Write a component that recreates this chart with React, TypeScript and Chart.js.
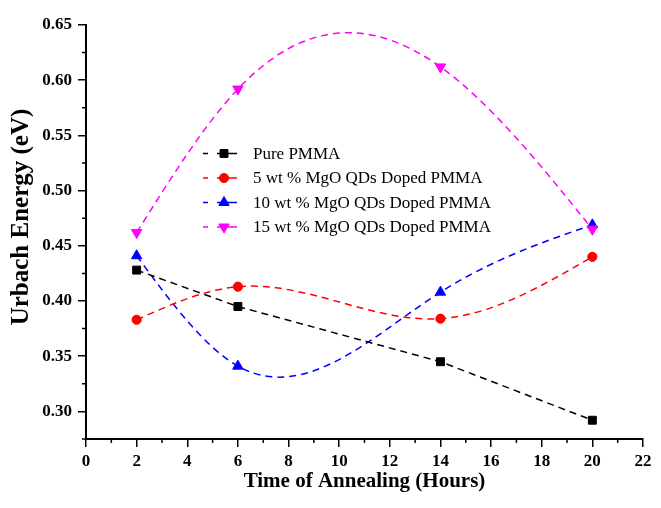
import React, { useEffect, useRef } from "react";
import { Chart, registerables } from "chart.js";

Chart.register(...registerables);

// ---- data ----
const hours = [2, 6, 14, 20];
const purePMMA = [0.428, 0.395, 0.345, 0.292];
const mgo5 = [0.383, 0.413, 0.384, 0.44];
const mgo10 = [0.441, 0.341, 0.408, 0.469];
const mgo15 = [0.462, 0.592, 0.612, 0.465];
const seriesLabels = [
  "Pure PMMA",
  "5 wt % MgO QDs Doped PMMA",
  "10 wt % MgO QDs Doped PMMA",
  "15 wt % MgO QDs Doped PMMA",
];
const xTicks = [0, 2, 4, 6, 8, 10, 12, 14, 16, 18, 20, 22];
const xMinorTicks = [1, 3, 5, 7, 9, 11, 13, 15, 17, 19, 21];
const yTicks = [0.3, 0.35, 0.4, 0.45, 0.5, 0.55, 0.6, 0.65];
const yMinorTicks = [0.275, 0.325, 0.375, 0.425, 0.475, 0.525, 0.575, 0.625];
const xTitle = "Time of Annealing (Hours)";
const yTitle = "Urbach Energy (eV)";

const FONT = "'Times New Roman', 'Liberation Serif', serif";

// Slopes of a natural cubic spline through (xs, ys) – used only to shape the
// Bezier control points of the smoothed lines (Origin-style "spline" connector).
function naturalSplineSlopes(xs: number[], ys: number[]): number[] {
  const n = xs.length;
  const h: number[] = [];
  const s: number[] = [];
  for (let i = 0; i < n - 1; i++) {
    h[i] = xs[i + 1] - xs[i];
    s[i] = (ys[i + 1] - ys[i]) / h[i];
  }
  const M = new Array(n).fill(0);
  if (n > 2) {
    const b: number[] = [];
    const c: number[] = [];
    const d: number[] = [];
    const a: number[] = [];
    for (let i = 1; i < n - 1; i++) {
      a[i] = h[i - 1];
      b[i] = 2 * (h[i - 1] + h[i]);
      c[i] = h[i];
      d[i] = 6 * (s[i] - s[i - 1]);
    }
    for (let i = 2; i < n - 1; i++) {
      const w = a[i] / b[i - 1];
      b[i] -= w * c[i - 1];
      d[i] -= w * d[i - 1];
    }
    M[n - 2] = d[n - 2] / b[n - 2];
    for (let i = n - 3; i >= 1; i--) M[i] = (d[i] - c[i] * M[i + 1]) / b[i];
  }
  const m: number[] = [];
  for (let i = 0; i < n - 1; i++) m[i] = s[i] - (h[i] * (2 * M[i] + M[i + 1])) / 6;
  m[n - 1] = s[n - 2] + (h[n - 2] * (M[n - 2] + 2 * M[n - 1])) / 6;
  return m;
}

const splineControlPlugin = {
  id: "splineControl",
  beforeDatasetsDraw(chart: any) {
    const xs = chart.scales.x;
    const ys = chart.scales.y;
    chart.data.datasets.forEach((ds: any, di: number) => {
      if (!ds.spline) return;
      const meta = chart.getDatasetMeta(di);
      const line = meta.dataset;
      if (!line) return;
      line.updateControlPoints(chart.chartArea, "x");
      const px = ds.data.map((p: any) => p.x);
      const py = ds.data.map((p: any) => p.y);
      const m = naturalSplineSlopes(px, py);
      const pts = meta.data;
      for (let i = 0; i < pts.length; i++) {
        const pt = pts[i];
        if (i > 0) {
          const hh = (px[i] - px[i - 1]) / 3;
          pt.cp1x = xs.getPixelForValue(px[i] - hh);
          pt.cp1y = ys.getPixelForValue(py[i] - m[i] * hh);
        } else {
          pt.cp1x = pt.x;
          pt.cp1y = pt.y;
        }
        if (i < pts.length - 1) {
          const hh = (px[i + 1] - px[i]) / 3;
          pt.cp2x = xs.getPixelForValue(px[i] + hh);
          pt.cp2y = ys.getPixelForValue(py[i] + m[i] * hh);
        } else {
          pt.cp2x = pt.x;
          pt.cp2y = pt.y;
        }
      }
      line._path = undefined;
    });
  },
};

function drawMarker(
  ctx: CanvasRenderingContext2D,
  style: string,
  rotationDeg: number,
  x: number,
  y: number,
  r: number,
  color: string
) {
  ctx.save();
  ctx.fillStyle = color;
  ctx.strokeStyle = color;
  ctx.lineWidth = 1;
  ctx.beginPath();
  if (style === "rect") {
    const s = r / Math.SQRT2;
    ctx.rect(x - s, y - s, 2 * s, 2 * s);
  } else if (style === "circle") {
    ctx.arc(x, y, r, 0, Math.PI * 2);
  } else {
    let rad = (rotationDeg * Math.PI) / 180;
    ctx.moveTo(x + Math.sin(rad) * r, y - Math.cos(rad) * r);
    rad += (2 * Math.PI) / 3;
    ctx.lineTo(x + Math.sin(rad) * r, y - Math.cos(rad) * r);
    rad += (2 * Math.PI) / 3;
    ctx.lineTo(x + Math.sin(rad) * r, y - Math.cos(rad) * r);
    ctx.closePath();
  }
  ctx.fill();
  ctx.stroke();
  ctx.restore();
}

const minorTicksPlugin = {
  id: "minorTicks",
  afterDraw(chart: any) {
    const { ctx, chartArea, scales } = chart;
    ctx.save();
    ctx.strokeStyle = "#000";
    ctx.lineWidth = 1.5;
    ctx.beginPath();
    xMinorTicks.forEach((v) => {
      const px = scales.x.getPixelForValue(v);
      ctx.moveTo(px, chartArea.bottom);
      ctx.lineTo(px, chartArea.bottom + 4);
    });
    yMinorTicks.forEach((v) => {
      const py = scales.y.getPixelForValue(v);
      ctx.moveTo(chartArea.left, py);
      ctx.lineTo(chartArea.left - 4, py);
    });
    ctx.stroke();
    ctx.restore();
  },
};

const yTitlePlugin = {
  id: "yTitle",
  afterDraw(chart: any) {
    const { ctx, chartArea } = chart;
    ctx.save();
    ctx.translate(22, chartArea.top + 192);
    ctx.rotate(-Math.PI / 2);
    ctx.fillStyle = "#000";
    ctx.font = `bold 25px ${FONT}`;
    ctx.textAlign = "center";
    ctx.textBaseline = "middle";
    ctx.fillText(yTitle, 0, 0);
    ctx.restore();
  },
};

const insideLegendPlugin = {
  id: "insideLegend",
  afterDraw(chart: any) {
    const { ctx, chartArea } = chart;
    const x0 = chartArea.left + 117;
    chart.data.datasets.forEach((ds: any, i: number) => {
      const y = chartArea.top + 128.5 + i * 24.5;
      ctx.save();
      ctx.strokeStyle = ds.borderColor;
      ctx.lineWidth = 1.5;
      ctx.beginPath();
      ctx.moveTo(x0, y);
      ctx.lineTo(x0 + 5, y);
      ctx.moveTo(x0 + 14, y);
      ctx.lineTo(x0 + 34, y);
      ctx.stroke();
      ctx.restore();
      drawMarker(ctx, ds.pointStyle, ds.pointRotation || 0, x0 + 21, y, ds.pointRadius, ds.borderColor);
      ctx.save();
      ctx.fillStyle = "#000";
      ctx.font = `17px ${FONT}`;
      ctx.textBaseline = "middle";
      ctx.textAlign = "left";
      ctx.fillText(seriesLabels[i], x0 + 50, y + 1);
      ctx.restore();
    });
  },
};

function toPoints(values: number[]) {
  return hours.map((h, i) => ({ x: h, y: values[i] }));
}

export default function App() {
  const canvasRef = useRef<HTMLCanvasElement | null>(null);

  useEffect(() => {
    if (!canvasRef.current) return;
    Chart.defaults.font.family = FONT;
    Chart.defaults.color = "#000";

    const common = {
      borderWidth: 1.5,
      borderDash: [7, 5],
      pointBorderWidth: 1,
      fill: false,
    };

    const chart = new Chart(canvasRef.current, {
      type: "line",
      data: {
        datasets: [
          {
            ...common,
            label: seriesLabels[0],
            data: toPoints(purePMMA),
            borderColor: "#000000",
            backgroundColor: "#000000",
            pointStyle: "rect",
            pointRadius: 5.6,
            tension: 0,
            spline: false,
            order: 1,
          },
          {
            ...common,
            label: seriesLabels[1],
            data: toPoints(mgo5),
            borderColor: "#ff0000",
            backgroundColor: "#ff0000",
            pointStyle: "circle",
            pointRadius: 4.6,
            tension: 0.4,
            spline: true,
            order: 2,
          },
          {
            ...common,
            label: seriesLabels[2],
            data: toPoints(mgo10),
            borderColor: "#0000ff",
            backgroundColor: "#0000ff",
            pointStyle: "triangle",
            pointRadius: 6,
            tension: 0.4,
            spline: true,
            order: 3,
          },
          {
            ...common,
            label: seriesLabels[3],
            data: toPoints(mgo15),
            borderColor: "#ff00ff",
            backgroundColor: "#ff00ff",
            pointStyle: "triangle",
            pointRotation: 180,
            pointRadius: 6,
            tension: 0.4,
            spline: true,
            order: 0,
          },
        ],
      } as any,
      options: {
        animation: false,
        responsive: true,
        maintainAspectRatio: false,
        layout: { padding: { top: 25, right: 18, left: 0, bottom: 0 } },
        elements: { line: { capBezierPoints: false } as any },
        plugins: {
          legend: { display: false },
          tooltip: { enabled: false },
        },
        scales: {
          x: {
            type: "linear",
            min: 0,
            max: 22,
            afterBuildTicks: (scale: any) => {
              scale.ticks = xTicks.map((v) => ({ value: v }));
            },
            afterFit: (scale: any) => {
              scale.height = 69;
            },
            grid: {
              drawOnChartArea: false,
              drawTicks: true,
              tickLength: 8,
              color: "#000",
              lineWidth: 1.5,
            },
            border: { display: true, color: "#000", width: 2 },
            ticks: {
              color: "#000",
              padding: 4,
              maxRotation: 0,
              font: { size: 17, weight: "bold", family: FONT },
              callback: (v: any) => String(v),
            },
            title: {
              display: true,
              text: xTitle,
              color: "#000",
              font: { size: 21, weight: "bold", family: FONT },
              padding: { top: 0, bottom: 14 },
            },
          },
          y: {
            type: "linear",
            min: 0.275,
            max: 0.65,
            afterBuildTicks: (scale: any) => {
              scale.ticks = yTicks.map((v) => ({ value: v }));
            },
            afterFit: (scale: any) => {
              scale.width = 86;
            },
            grid: {
              drawOnChartArea: false,
              drawTicks: true,
              tickLength: 8,
              color: "#000",
              lineWidth: 1.5,
            },
            border: { display: true, color: "#000", width: 2 },
            ticks: {
              color: "#000",
              padding: 6,
              font: { size: 17, weight: "bold", family: FONT },
              callback: (v: any) => Number(v).toFixed(2),
            },
            title: { display: false, text: yTitle },
          },
        },
      } as any,
      plugins: [splineControlPlugin, minorTicksPlugin, yTitlePlugin, insideLegendPlugin],
    });

    return () => {
      chart.destroy();
    };
  }, []);

  return (
    <div style={{ position: "absolute", left: 0, top: 0, width: 661, height: 508, background: "#fff" }}>
      <canvas ref={canvasRef} />
    </div>
  );
}
